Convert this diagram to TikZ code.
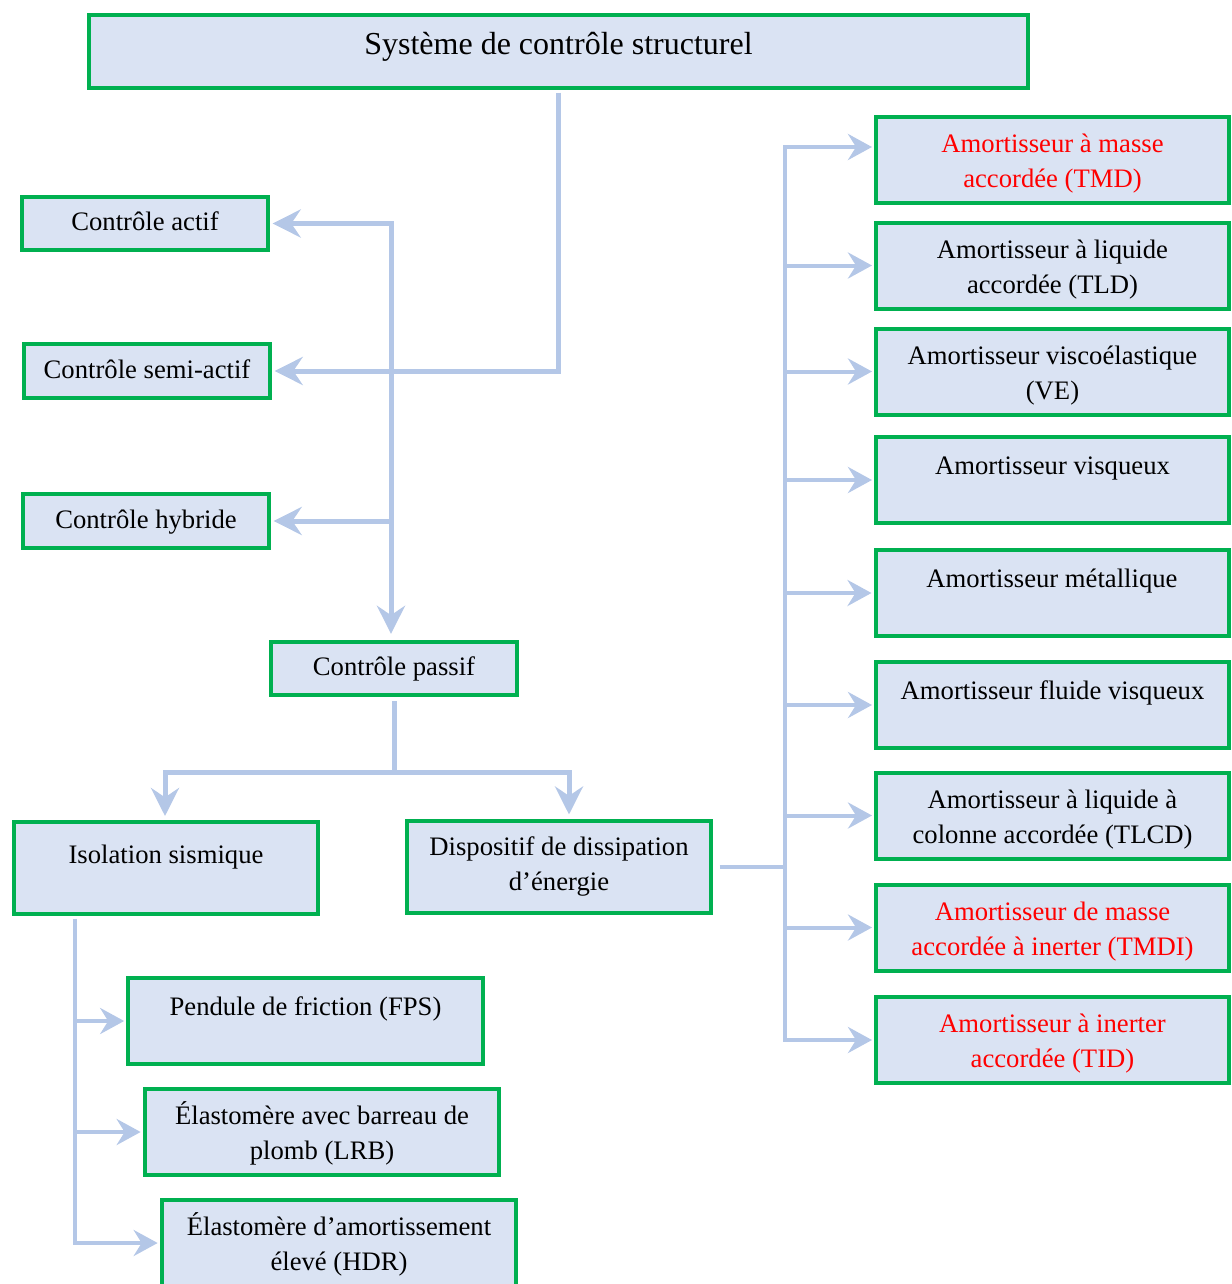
\documentclass[tikz,border=0pt]{standalone}
\usepackage{fontspec}
\setmainfont{Liberation Serif}
\usetikzlibrary{arrows.meta}
\definecolor{lnc}{HTML}{B4C7E7}
\definecolor{bfill}{HTML}{DAE3F3}
\definecolor{bgreen}{HTML}{00B050}
\definecolor{tred}{HTML}{FF0000}
\newcommand\mytop{\rule{0pt}{23.6pt}}
\newcommand\mybot{\rule[-7.9pt]{0pt}{7.9pt}}
\begin{document}
\begin{tikzpicture}[x=0.75pt,y=-0.75pt,
  box/.style={draw=bgreen, line width=3pt, fill=bfill, align=center, inner sep=0pt, font=\fontsize{20}{26.25}\selectfont},
  sbox/.style={box, execute at begin node=\strut, execute at end node=\strut},
  oneline/.style={box, text height=15pt, text depth=22.8pt},
  small/.style={sbox, minimum width=184.5pt, minimum height=40pt},
  mid/.style={box, minimum width=228pt, minimum height=69pt},
  lsize/.style={box, minimum width=266pt, minimum height=64.5pt},
  rsize/.style={box, minimum width=264.75pt, minimum height=64.5pt},
  conn/.style={draw=lnc, line width=3.75pt, >={Stealth[length=21pt,width=21pt,inset=7pt]}},
  tconn/.style={draw=lnc, line width=3pt, >={Stealth[length=18pt,width=19.5pt,inset=6pt]}}
]
\useasboundingbox (0,0) rectangle (1231,1284);

% nodes
\node[box, font=\fontsize{24}{29}\selectfont, minimum width=704.25pt, minimum height=54.75pt, text height=17pt, text depth=12.4pt] (top) at (558.5,51.5) {Système de contrôle structurel};

\node[small] (actif) at (145,223.5) {Contrôle actif};
\node[small] (semi) at (147,371) {Contrôle semi-actif};
\node[small] (hyb) at (146,521) {Contrôle hybride};
\node[small] (pass) at (394,668.5) {Contrôle passif};

\node[mid, text height=15pt, text depth=21.3pt] (iso) at (166,868) {Isolation sismique};
\node[mid] (disp) at (559,866.5) {Dispositif de dissipation\\d’énergie};

\node[oneline, lsize] (fps) at (305.5,1021) {Pendule de friction (FPS)};
\node[lsize] (lrb) at (322,1132) {\mytop Élastomère avec barreau de\\plomb (LRB)\mybot};
\node[lsize] (hdr) at (339,1243) {\mytop Élastomère d’amortissement\\élevé (HDR)\mybot};

\node[rsize, text=tred] (tmd) at (1052.5,160) {\mytop Amortisseur à masse\\accordée (TMD)\mybot};
\node[rsize] (tld) at (1052.5,265.5) {\mytop Amortisseur à liquide\\accordée (TLD)\mybot};
\node[rsize] (ve) at (1052.5,371.5) {\mytop Amortisseur viscoélastique\\(VE)\mybot};
\node[oneline, rsize] (visq) at (1052.5,480) {Amortisseur visqueux};
\node[oneline, rsize] (met) at (1052,593) {Amortisseur métallique};
\node[oneline, rsize] (fluide) at (1052.5,705) {Amortisseur fluide visqueux};
\node[rsize] (tlcd) at (1052.5,815.5) {\mytop Amortisseur à liquide à\\colonne accordée (TLCD)\mybot};
\node[rsize, text=tred] (tmdi) at (1052.5,927.5) {\mytop Amortisseur de masse\\accordée à inerter (TMDI)\mybot};
\node[rsize, text=tred] (tid) at (1052.5,1039.5) {\mytop Amortisseur à inerter\\accordée (TID)\mybot};

% junction coordinates
\coordinate (ja) at (391,223.5);
\coordinate (jm) at (394,772);
\coordinate (ji) at (165,772);
\coordinate (jd) at (569,772);
\coordinate (bt) at (785,147);
\coordinate (bb) at (785,1040);
\coordinate (jl) at (75,916);

% connectors
\draw[conn,->,shorten <=2pt,shorten >=2pt] (top.south) |- (semi.east);
\draw[conn,<->,shorten <=2pt,shorten >=4.5pt] (actif.east) -| (ja |- pass.north);
\draw[conn,->,shorten >=2pt] (ja |- hyb.east) -- (hyb.east);
\draw[conn,shorten <=3pt] (pass.south) -- (jm);
\draw[conn,<->,shorten <=3pt,shorten >=3pt] (ji |- iso.north) -- (ji) -- (jd) -- (jd |- disp.north);

\draw[tconn,shorten <=5pt] (disp.east) -- (bt |- disp.east);
\draw[tconn,<->,shorten <=1.5pt,shorten >=1.5pt] (tmd.west |- bt) -- (bt) -- (bb) -- (tid.west |- bb);
\foreach \n in {tld,ve,visq,met,fluide,tlcd,tmdi}
  \draw[tconn,->,shorten >=1.5pt] (bt |- \n.west) -- (\n.west);

\draw[tconn,->,shorten <=2pt,shorten >=1.5pt] (jl |- iso.south) |- (hdr.west);
\foreach \n in {fps,lrb}
  \draw[tconn,->,shorten >=1.5pt] (jl |- \n.west) -- (\n.west);
\end{tikzpicture}
\end{document}
